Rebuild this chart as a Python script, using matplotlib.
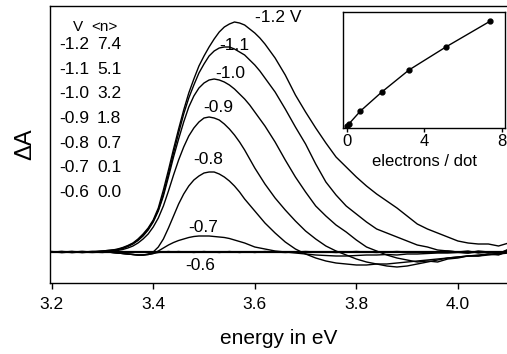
import matplotlib
matplotlib.use("Agg")
import matplotlib.pyplot as plt

plt.rcParams["font.family"] = ["Liberation Sans", "DejaVu Sans"]

# photon energy (eV)
energy = [3.20, 3.22, 3.24, 3.26, 3.28, 3.30,
          3.31, 3.32, 3.33, 3.34, 3.35, 3.36, 3.37, 3.38, 3.39, 3.40,
          3.41, 3.42, 3.43, 3.44, 3.45, 3.46, 3.47, 3.48, 3.49, 3.50,
          3.51, 3.52, 3.53, 3.54, 3.55, 3.56, 3.57, 3.58, 3.59, 3.60,
          3.61, 3.62,
          3.64, 3.66, 3.68, 3.70, 3.72, 3.74, 3.76, 3.78, 3.80, 3.82,
          3.84, 3.86, 3.88, 3.90, 3.92, 3.94, 3.96, 3.98, 4.00, 4.02,
          4.04, 4.06, 4.08, 4.10]

# differential absorption (arb. units) for each gate voltage
dA_12 = [0.5, -0.5, 0, 0.5, 0, 1,
         1.5, 2, 3, 4.5, 6.5, 9, 13, 18, 24, 32,
         44, 62, 82, 103, 123, 142, 159, 173, 186, 196,
         205, 213, 220, 225, 228, 230, 229, 227, 223, 219,
         214, 208,
         194, 177, 157, 140, 124, 109, 95, 85, 75, 66,
         58, 51, 44, 36, 28, 23, 19, 15, 11, 9,
         8, 8, 6, 9]
dA_11 = [0, 0.5, -0.5, 0, 0.5, 1,
         1.5, 2, 2.5, 4, 6, 8.5, 12, 17, 23, 31,
         42, 58, 78, 99, 119, 138, 154, 167, 179, 188,
         196, 201, 204, 205, 205, 203, 200, 197, 192, 187,
         181, 174,
         160, 143, 125, 108, 88, 70, 57, 46, 38, 30,
         23, 19, 15, 11, 7, 5, 2, 1, 0, 1,
         -1, 0, -2, 3]
dA_10 = [0, 0, 0.5, -0.5, 0, 0.5,
         1, 1.5, 2.5, 3.5, 5.5, 8, 11.5, 16, 22, 30,
         41, 56, 75, 95, 113, 130, 145, 156, 164, 169,
         172, 173, 172, 170, 167, 163, 158, 153, 147, 140,
         133, 126,
         110, 92, 75, 60, 46, 36, 27, 20, 12, 5,
         1, -3, -6, -8, -10, -9, -10, -7, -6, -4,
         -4, -2, -3, 1]
dA_09 = [0, 0.5, 0, -0.5, 0, 0,
         0.5, 1, 1.5, 2.5, 4, 6, 9, 13, 18, 25,
         34, 46, 61, 77, 92, 105, 116, 124, 130, 134,
         135, 134, 132, 128, 123, 117, 110, 102, 93, 84,
         76, 68,
         54, 42, 31, 21, 13, 6, 1, -3, -7, -10,
         -12, -14, -15, -14, -12, -10, -8, -6, -5, -4,
         -3, -2, -2, 0]
dA_08 = [0, 0, -0.5, 0, 0.5, 0,
         0, -0.5, -1, -1.5, -2, -2.5, -3, -3, -2, 0,
         5, 13, 24, 36, 48, 58, 66, 72, 76, 79,
         80, 80, 78, 75, 71, 66, 60, 53, 47, 41,
         35, 29,
         19, 10, 3, -2, -6, -9, -11, -12, -13, -13,
         -12, -12, -11, -10, -9, -8, -7, -6, -5, -4,
         -4, -3, -2, -1]
dA_07 = [0, 0, 0.5, 0, -0.5, 0,
         0, -0.5, -1, -1.5, -2, -2.5, -3, -3, -2.5, -1.5,
         1, 4, 7, 9.5, 11.5, 13, 14.5, 15.5, 16, 16,
         16, 15.5, 15, 14.5, 13.5, 12, 10.5, 9, 7, 5,
         4, 3,
         1, 0, -1, -2, -3, -3.5, -4, -4, -3.5, -3,
         -3, -2.5, -3, -2, -2, -1.5, -1, -1, -0.5, -1,
         0, -0.5, 0, 0.5]
dA_06 = [0, -0.5, 0, 0.5, 0, -0.5,
         0, -0.5, -1, -1.5, -2, -2.5, -3, -3, -2.5, -1.5,
         -0.5, 0, 0.5, 0, 0.5, 0, 0, -0.5, 0, 0.5,
         0, 0, -0.5, 0, 0.5, 0, -0.5, 0, 0, -0.5,
         0, 0.5,
         0, -0.5, 0, 0.5, 0, 0, -0.5, 0, 0.5, 0,
         -0.5, 0, 0.5, 0, 0, -0.5, 0, 1, 0, -1,
         1, 0, -1, 2]

curves = [dA_12, dA_11, dA_10, dA_09, dA_08, dA_07, dA_06]
curve_labels = ["-1.2 V", "-1.1", "-1.0", "-0.9", "-0.8", "-0.7", "-0.6"]
label_pos = [(3.600, 234), (3.560, 207), (3.552, 179), (3.528, 144),
             (3.509, 93), (3.499, 25), (3.493, -13)]

voltages = ["-1.2", "-1.1", "-1.0", "-0.9", "-0.8", "-0.7", "-0.6"]
electrons = [7.4, 5.1, 3.2, 1.8, 0.7, 0.1, 0.0]

# inset: integrated signal vs electrons per dot
inset_n = [0.0, 0.1, 0.7, 1.8, 3.2, 5.1, 7.4]
inset_signal = [0.02, 0.04, 0.17, 0.36, 0.58, 0.81, 1.07]

fig = plt.figure(figsize=(5.07, 3.54), dpi=100)
ax = fig.add_axes([50 / 507, 71 / 354, 457 / 507, 277 / 354])

ax.axhline(0, color="black", lw=1.6)
for dA in curves:
    ax.plot(energy, dA, color="black", lw=1.0)

for lab, (x, y) in zip(curve_labels, label_pos):
    ha = "left" if lab.endswith("V") else "center"
    ax.text(x, y, lab, fontsize=12.5, ha=ha, va="center")

# voltage / electron table
ax.text(0.062, 0.925, "V", transform=ax.transAxes, fontsize=11, ha="center", va="center")
ax.text(0.118, 0.925, "<n>", transform=ax.transAxes, fontsize=11, ha="center", va="center")
for i, (v, n) in enumerate(zip(voltages, electrons)):
    yy = 0.86 - i * 0.0888
    ax.text(0.020, yy, v, transform=ax.transAxes, fontsize=12.5, ha="left", va="center")
    ax.text(0.103, yy, f"{n:.1f}", transform=ax.transAxes, fontsize=12.5, ha="left", va="center")

ax.set_xlim(3.1967, 4.0967)
ax.set_ylim(-31, 246)
ax.set_xticks([3.2, 3.4, 3.6, 3.8, 4.0])
ax.set_xticklabels(["3.2", "3.4", "3.6", "3.8", "4.0"])
ax.set_yticks([])
ax.tick_params(axis="x", direction="out", length=4, width=1, labelsize=12.5, pad=6)
ax.spines["right"].set_visible(False)
for s in ["left", "top", "bottom"]:
    ax.spines[s].set_linewidth(1.0)
ax.set_xlabel("energy in eV", fontsize=15, labelpad=12)
ax.set_ylabel("\u0394A", fontsize=17, labelpad=10)

# inset
ins = fig.add_axes([343 / 507, 226 / 354, 162 / 507, 116 / 354])
ins.plot(inset_n, inset_signal, color="black", lw=1.0, marker="o", markersize=3.5)
ins.set_xlim(-0.2, 8.15)
ins.set_ylim(0, 1.16)
ins.set_xticks([0, 4, 8])
ins.set_yticks([])
ins.tick_params(axis="x", direction="out", length=3, width=1, labelsize=12, pad=1)
for s in ins.spines.values():
    s.set_linewidth(1.0)
ins.set_xlabel("electrons / dot", fontsize=12, labelpad=4)

fig.savefig("out.png", dpi=100)
